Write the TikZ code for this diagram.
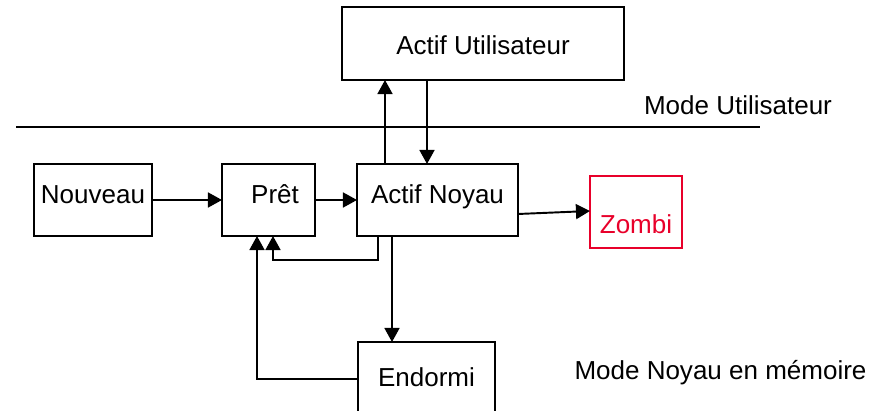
\documentclass[tikz,border=0pt]{standalone}
\usepackage{fontspec}
\setmainfont{Liberation Sans}
\usetikzlibrary{arrows.meta}
\definecolor{zombired}{RGB}{232,0,42}
\begin{document}
\begin{tikzpicture}[x=0.02cm, y=-0.02cm, line width=1.1pt,
      >={Triangle[length=8pt,width=8.5pt]},
      every node/.append style={font=\fontsize{14.8}{17}\selectfont,inner sep=0pt,outer sep=0pt}]
    \tikzstyle{state} = [draw, rectangle, text height=0.8cm, text depth=0.64cm]
    \clip (0,0) rectangle (886,411);
    \node [state, minimum width=2.36cm] (nouveau) at (93,200) {Nouveau};
    \node [state, minimum width=1.86cm] (pret) at (268.5,200) {\hspace{0.26cm}Prêt};
    \node [state, minimum width=3.22cm] (noyau) at (437.5,200) {Actif Noyau};
    \node [state, minimum width=5.64cm, text height=0.96cm, text depth=0.5cm] (actu) at (483,43.5) {Actif Utilisateur};
    \node [state, minimum width=1.84cm, text height=1.16cm, text depth=0.28cm, draw=zombired, text=zombired] (zombi) at (636,212) {Zombi};
    \node [state, minimum width=2.74cm, text height=0.9cm, text depth=0.58cm] (endormi) at (426.5,379) {Endormi};
    \node [anchor=base] (usermode) at (738,115) {Mode Utilisateur};
    \node [anchor=base] (kernelmode) at (720.5,380) {Mode Noyau en mémoire};
    \coordinate (upx) at (385,0);
    \coordinate (downx) at (427,0);
    \coordinate (loopx) at (378,0);
    \coordinate (backx) at (273,0);
    \coordinate (sleepx) at (392,0);
    \coordinate (wakex) at (257,0);
    \draw [line width=1.2pt] (16,127) -- (760,127);
    \draw [->] (nouveau) -- (pret);
    \draw [->] (pret) -- (noyau);
    \draw [->] ([yshift=-0.28cm]noyau.east) -- ([yshift=0.02cm]zombi.west);
    \draw [->] (upx |- noyau.north) -- (upx |- actu.south);
    \draw [->] (downx |- actu.south) -- (downx |- noyau.north);
    \draw [->] (loopx |- noyau.south) -- ++(0,24) -| (backx |- pret.south);
    \draw [->] (sleepx |- noyau.south) -- (sleepx |- endormi.north);
    \draw [->] (endormi.west) -| (wakex |- pret.south);
\end{tikzpicture}
\end{document}
